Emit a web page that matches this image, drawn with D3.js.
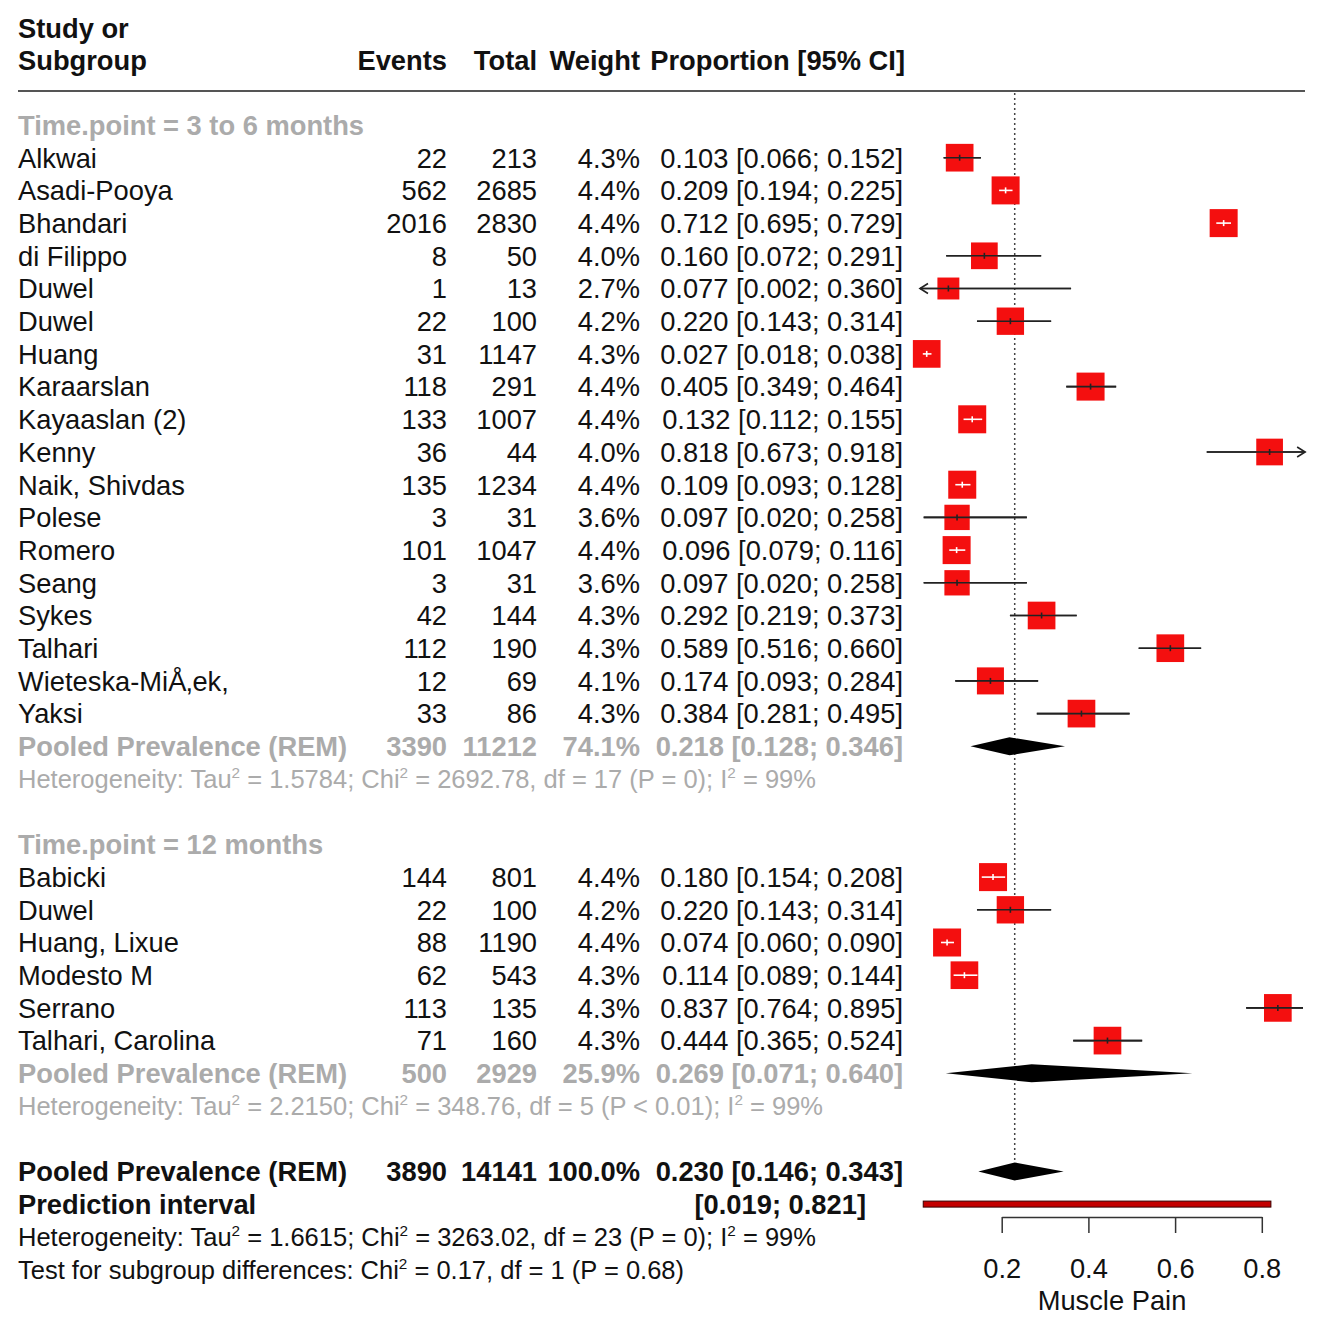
<!DOCTYPE html>
<html>
<head>
<meta charset="utf-8">
<script src="https://cdn.jsdelivr.net/npm/d3@7"></script>
<style>
  body { margin: 0; background: #fff; }
  svg text { font-family: "Liberation Sans", Arial, sans-serif; }
</style>
</head>
<body>
<svg id="id_svg"></svg>
<script>
width = 1325
height = 1324
fontSize = 27.3
hetFontSize = 25.5

// study rows, group 1 (Time.point = 3 to 6 months)
studies1 = ["Alkwai", "Asadi-Pooya", "Bhandari", "di Filippo", "Duwel", "Duwel", "Huang", "Karaarslan",
    "Kayaaslan (2)", "Kenny", "Naik, Shivdas", "Polese", "Romero", "Seang", "Sykes", "Talhari",
    "Wieteska-Mi\u00c5\u201aek,", "Yaksi"]
events1 = [22, 562, 2016, 8, 1, 22, 31, 118, 133, 36, 135, 3, 101, 3, 42, 112, 12, 33]
totals1 = [213, 2685, 2830, 50, 13, 100, 1147, 291, 1007, 44, 1234, 31, 1047, 31, 144, 190, 69, 86]
weights1 = [4.3, 4.4, 4.4, 4.0, 2.7, 4.2, 4.3, 4.4, 4.4, 4.0, 4.4, 3.6, 4.4, 3.6, 4.3, 4.3, 4.1, 4.3]
props1 = [0.103, 0.209, 0.712, 0.160, 0.077, 0.220, 0.027, 0.405, 0.132, 0.818, 0.109, 0.097, 0.096, 0.097, 0.292, 0.589, 0.174, 0.384]
lowers1 = [0.066, 0.194, 0.695, 0.072, 0.002, 0.143, 0.018, 0.349, 0.112, 0.673, 0.093, 0.020, 0.079, 0.020, 0.219, 0.516, 0.093, 0.281]
uppers1 = [0.152, 0.225, 0.729, 0.291, 0.360, 0.314, 0.038, 0.464, 0.155, 0.918, 0.128, 0.258, 0.116, 0.258, 0.373, 0.660, 0.284, 0.495]

// study rows, group 2 (Time.point = 12 months)
studies2 = ["Babicki", "Duwel", "Huang, Lixue", "Modesto M", "Serrano", "Talhari, Carolina"]
events2 = [144, 22, 88, 62, 113, 71]
totals2 = [801, 100, 1190, 543, 135, 160]
weights2 = [4.4, 4.2, 4.4, 4.3, 4.3, 4.3]
props2 = [0.180, 0.220, 0.074, 0.114, 0.837, 0.444]
lowers2 = [0.154, 0.143, 0.060, 0.089, 0.764, 0.365]
uppers2 = [0.208, 0.314, 0.090, 0.144, 0.895, 0.524]

// pooled estimates: group 1, group 2, overall
pooledEvents = [3390, 500, 3890]
pooledTotals = [11212, 2929, 14141]
pooledWeights = ["74.1%", "25.9%", "100.0%"]
pooledProps = [0.218, 0.269, 0.230]
pooledLowers = [0.128, 0.071, 0.146]
pooledUppers = [0.346, 0.640, 0.343]
predInterval = [0.019, 0.821]

axisTicks = [0.2, 0.4, 0.6, 0.8]
xLimits = [0.0115, 0.9]

fmt3 = d3.format(".3f")
ciText = (p, l, u) => `${fmt3(p)} [${fmt3(l)}; ${fmt3(u)}]`

chart = function() {
    const svg = d3.select("#id_svg").attr("width", width).attr("height", height)
        .attr("viewBox", [0, 0, width, height]);

    const x = d3.scaleLinear().domain([0, 1]).range([915, 915 + 433.5]);
    const y = d3.scaleLinear().domain([0, 35]).range([125, 125 + 35 * 32.7]);
    const side = d3.scaleSqrt().domain([0, 4.4]).range([0, 28]);

    const colStudy = 18, colEvents = 447, colTotal = 537, colWeight = 640, colCI = 903;
    const grey = "#ababab", ink = "#111";

    function txt(xp, yp, s, anchor, opts = {}) {
        return svg.append("text")
            .attr("x", xp).attr("y", yp).attr("dy", "0.36em")
            .attr("text-anchor", anchor)
            .attr("font-size", fontSize)
            .attr("font-weight", opts.bold ? "bold" : "normal")
            .attr("fill", opts.fill || ink)
            .text(s);
    }

    // heterogeneity lines; "^" marks a superscript 2
    function hetLine(yp, str, fill) {
        const t = svg.append("text").attr("x", colStudy).attr("y", yp).attr("dy", "0.36em")
            .attr("font-size", hetFontSize).attr("fill", fill);
        const pieces = str.split("^");
        pieces.forEach((p, i) => {
            const s = t.append("tspan").text(p);
            if (i > 0) s.attr("dy", 10);
            if (i < pieces.length - 1) {
                t.append("tspan").attr("font-size", hetFontSize * 0.6).attr("dy", -10).text("2");
            }
        });
    }

    // header
    txt(colStudy, 28, "Study or", "start", { bold: true });
    txt(colStudy, 60, "Subgroup", "start", { bold: true });
    txt(colEvents, 60, "Events", "end", { bold: true });
    txt(colTotal, 60, "Total", "end", { bold: true });
    txt(colWeight, 60, "Weight", "end", { bold: true });
    txt(colCI + 2, 60, "Proportion [95% CI]", "end", { bold: true });
    svg.append("line").attr("x1", 18).attr("x2", 1305).attr("y1", 91).attr("y2", 91)
        .attr("stroke", "#555").attr("stroke-width", 2);

    // reference line at overall estimate
    svg.append("line")
        .attr("x1", x(pooledProps[2])).attr("x2", x(pooledProps[2]))
        .attr("y1", 93).attr("y2", y(32) - 10)
        .attr("stroke", "#444").attr("stroke-width", 1.5).attr("stroke-dasharray", "2,3");

    const rows = [];
    studies1.forEach((s, i) => rows.push({ row: 1 + i, name: s, ev: events1[i], n: totals1[i], w: weights1[i], p: props1[i], l: lowers1[i], u: uppers1[i] }));
    studies2.forEach((s, i) => rows.push({ row: 23 + i, name: s, ev: events2[i], n: totals2[i], w: weights2[i], p: props2[i], l: lowers2[i], u: uppers2[i] }));

    // subgroup labels
    txt(colStudy, y(0), "Time.point = 3 to 6 months", "start", { bold: true, fill: grey });
    txt(colStudy, y(22), "Time.point = 12 months", "start", { bold: true, fill: grey });

    // study text
    rows.forEach(d => {
        const yy = y(d.row);
        txt(colStudy, yy, d.name, "start");
        txt(colEvents, yy, d.ev, "end");
        txt(colTotal, yy, d.n, "end");
        txt(colWeight, yy, d.w.toFixed(1) + "%", "end");
        txt(colCI, yy, ciText(d.p, d.l, d.u), "end");
    });

    // study marks
    const g = svg.append("g");
    rows.forEach(d => {
        const yy = y(d.row), s = side(d.w), cx = x(d.p);
        const lo = Math.max(d.l, xLimits[0]), hi = Math.min(d.u, xLimits[1]);
        const inside = x(d.l) >= cx - s / 2 && x(d.u) <= cx + s / 2;
        if (!inside) {
            g.append("line").attr("x1", x(lo)).attr("x2", x(hi)).attr("y1", yy).attr("y2", yy)
                .attr("stroke", "#222").attr("stroke-width", 1.6);
        }
        g.append("rect").attr("x", cx - s / 2).attr("y", yy - s / 2)
            .attr("width", s).attr("height", s).attr("fill", "#f40f0f");
        const c = inside ? "#fff" : "#222";
        g.append("line").attr("x1", x(lo)).attr("x2", x(hi)).attr("y1", yy).attr("y2", yy)
            .attr("stroke", c).attr("stroke-width", 1.6);
        g.append("line").attr("x1", cx).attr("x2", cx).attr("y1", yy - 3).attr("y2", yy + 3)
            .attr("stroke", c).attr("stroke-width", 1.6);
        if (d.l < xLimits[0]) {
            const ax = x(xLimits[0]);
            g.append("path").attr("d", `M${ax + 8},${yy - 5}L${ax},${yy}L${ax + 8},${yy + 5}`)
                .attr("fill", "none").attr("stroke", "#222").attr("stroke-width", 1.6);
        }
        if (d.u > xLimits[1]) {
            const ax = x(xLimits[1]);
            g.append("path").attr("d", `M${ax - 8},${yy - 5}L${ax},${yy}L${ax - 8},${yy + 5}`)
                .attr("fill", "none").attr("stroke", "#222").attr("stroke-width", 1.6);
        }
    });

    // pooled rows
    const pooledRows = [19, 29, 32];
    pooledRows.forEach((r, i) => {
        const yy = y(r);
        const opts = i < 2 ? { bold: true, fill: grey } : { bold: true };
        txt(colStudy, yy, "Pooled Prevalence (REM)", "start", opts);
        txt(colEvents, yy, pooledEvents[i], "end", opts);
        txt(colTotal, yy, pooledTotals[i], "end", opts);
        txt(colWeight, yy, pooledWeights[i], "end", opts);
        txt(colCI, yy, ciText(pooledProps[i], pooledLowers[i], pooledUppers[i]), "end", opts);
        const h = 9;
        g.append("path")
            .attr("d", `M${x(pooledLowers[i])},${yy}L${x(pooledProps[i])},${yy - h}L${x(pooledUppers[i])},${yy}L${x(pooledProps[i])},${yy + h}Z`)
            .attr("fill", "#000");
    });

    // prediction interval
    txt(colStudy, y(33), "Prediction interval", "start", { bold: true });
    txt(866, y(33), `[${fmt3(predInterval[0])}; ${fmt3(predInterval[1])}]`, "end", { bold: true });
    g.append("rect").attr("x", x(predInterval[0])).attr("y", y(33) - 3)
        .attr("width", x(predInterval[1]) - x(predInterval[0])).attr("height", 6)
        .attr("fill", "#c40000").attr("stroke", "#3a0000").attr("stroke-width", 1);

    // heterogeneity
    hetLine(y(20), "Heterogeneity: Tau^ = 1.5784; Chi^ = 2692.78, df = 17 (P = 0); I^ = 99%", grey);
    hetLine(y(30), "Heterogeneity: Tau^ = 2.2150; Chi^ = 348.76, df = 5 (P < 0.01); I^ = 99%", grey);
    hetLine(y(34), "Heterogeneity: Tau^ = 1.6615; Chi^ = 3263.02, df = 23 (P = 0); I^ = 99%", ink);
    hetLine(y(35), "Test for subgroup differences: Chi^ = 0.17, df = 1 (P = 0.68)", ink);

    // axis
    const xa = x.copy().domain([axisTicks[0], axisTicks[3]]).range([x(axisTicks[0]), x(axisTicks[3])]);
    const axis = svg.append("g").attr("transform", "translate(0,1217)")
        .call(d3.axisBottom(xa).tickValues(axisTicks).tickFormat(d3.format(".1f")).tickSize(16).tickSizeOuter(0));
    axis.select(".domain").attr("stroke", "#333").attr("stroke-width", 1.5);
    axis.selectAll(".tick line").attr("stroke", "#333").attr("stroke-width", 1.5);
    axis.selectAll(".tick text").attr("y", 51).attr("dy", "0.36em")
        .attr("font-size", fontSize).attr("fill", ink)
        .attr("font-family", "Liberation Sans, Arial, sans-serif");
    txt(1112, 1300, "Muscle Pain", "middle");

    return svg.node();
}
chart()
</script>
</body>
</html>
